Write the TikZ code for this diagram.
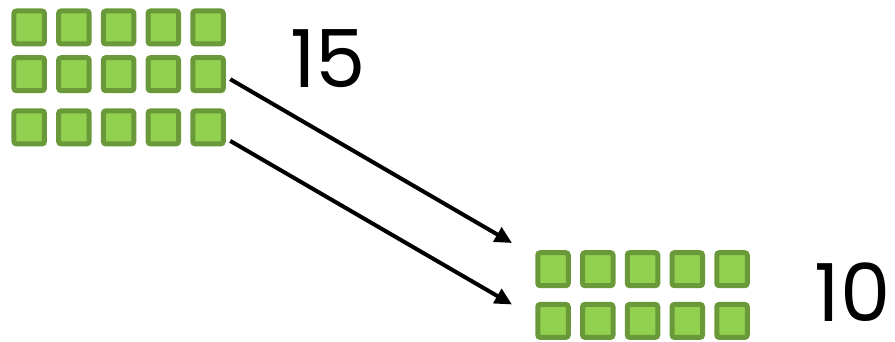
\documentclass[tikz,border=0pt]{standalone}
\usepackage{fontspec}
\setmainfont{Poppins}
\usetikzlibrary{arrows.meta}
\definecolor{sqborder}{RGB}{106,153,57}
\definecolor{sqfill}{RGB}{146,208,80}
\tikzset{
  block/.style={draw=sqborder, fill=sqfill, line width=5pt, rounded corners=2.5pt,
    minimum width=30.5pt, minimum height=33pt, inner sep=0pt},
  num/.style={font=\fontsize{80}{80}\selectfont, text=black, inner sep=0pt, text depth=0pt},
  link/.style={line width=4pt, -{Triangle[length=17pt,width=16pt]}}
}
\begin{document}
\begin{tikzpicture}[x=1pt,y=-1pt]
\useasboundingbox (0,0) rectangle (895,342);
% top group: 3 rows of 5
\foreach \r/\yy in {1/27.5,2/74.2,3/127.4}{
  \foreach \c in {1,...,5}{
    \node[block] (t\r\c) at ({29.2+44.7*(\c-1)},\yy) {};
  }
}
% bottom group: 2 rows of 5
\foreach \r/\yy in {1/269.2,2/320.9}{
  \foreach \c in {1,...,5}{
    \node[block] (b\r\c) at ({553+44.75*(\c-1)},\yy) {};
  }
}
\node[num, anchor=base] (n15) at (328,88) {15};
\node[num, anchor=base east] (n10) at (891,321) {10};
\coordinate (e1) at (512,243);
\coordinate (e2) at (512,304.5);
\draw[link] ([shift={(4.5,5)}]t25.east) -- (e1);
\draw[link] ([shift={(4.5,13.5)}]t35.east) -- (e2);
\end{tikzpicture}
\end{document}
